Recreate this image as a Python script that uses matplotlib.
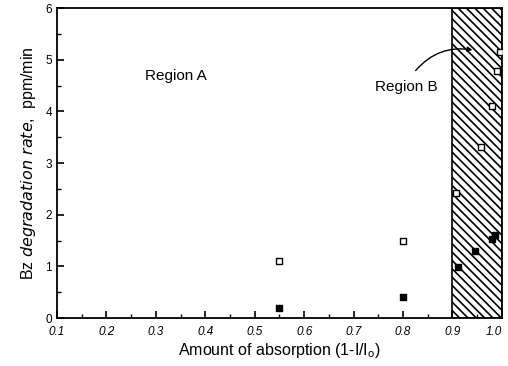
import numpy as np
import matplotlib.pyplot as plt
from matplotlib.ticker import MultipleLocator

plt.rcParams['font.family'] = ['Liberation Sans', 'DejaVu Sans']
plt.rcParams['hatch.linewidth'] = 1.2

## données
abs_open = [0.55, 0.80, 0.907, 0.958, 0.98, 0.99, 0.997]
rate_open = [1.10, 1.49, 2.42, 3.31, 4.10, 4.78, 5.15]
abs_fill = [0.55, 0.80, 0.911, 0.945, 0.98, 0.986]
rate_fill = [0.19, 0.41, 0.99, 1.30, 1.53, 1.60]
region_b = (0.9, 1.0)

fig = plt.figure(figsize=(5.08, 3.66), dpi=100)
ax = fig.add_axes([0.112, 0.131, 0.876, 0.847])

ax.axvspan(region_b[0], region_b[1], facecolor='white', edgecolor='black',
           hatch='\\\\\\\\', linewidth=1.2, zorder=1)
ax.scatter(abs_open, rate_open, marker='s', s=22, facecolors='white',
           edgecolors='black', linewidths=1.0, zorder=3)
ax.scatter(abs_fill, rate_fill, marker='s', s=24, color='black', zorder=3)

ax.set_xlim(0.1, 1.0)
ax.set_ylim(0, 6)
ax.xaxis.set_major_locator(MultipleLocator(0.1))
ax.xaxis.set_minor_locator(MultipleLocator(0.05))
ax.yaxis.set_major_locator(MultipleLocator(1))
ax.yaxis.set_minor_locator(MultipleLocator(0.5))
ax.tick_params(which='both', direction='in', top=False, right=False)
ax.tick_params(which='major', length=5, width=1.2)
ax.tick_params(which='minor', length=3, width=1.0)
ax.tick_params(axis='x', pad=6)
ax.set_xticks(np.arange(0.1, 1.01, 0.1))
ax.set_xticklabels(['0.1', '0.2', '0.3', '0.4', '0.5', '0.6', '0.7', '0.8', '0.9', '1.0'],
                   fontsize=8.5, style='italic')
ax.get_xticklabels()[-1].set_horizontalalignment('right')
ax.get_xticklabels()[-1].set_x(1.003)
for lab in ax.get_yticklabels():
    lab.set_fontsize(8.5)
for s in ax.spines.values():
    s.set_linewidth(1.3)

ax.set_xlabel('Amount of absorption (1-I/I$_\\mathregular{o}$)', fontsize=11.5, labelpad=2)
ax.set_ylabel('Bz $\\it{degradation\\ rate}$,  ppm/min', fontsize=11.5, labelpad=5)

ax.text(0.278, 4.6, 'Region A', fontsize=11)
ax.text(0.743, 4.4, 'Region B', fontsize=11)
ax.annotate('', xy=(0.946, 5.18), xytext=(0.822, 4.75),
            arrowprops=dict(arrowstyle='-|>', color='black', lw=1.0,
                            connectionstyle='arc3,rad=-0.3', mutation_scale=7))

fig.savefig('out.png', dpi=100)
